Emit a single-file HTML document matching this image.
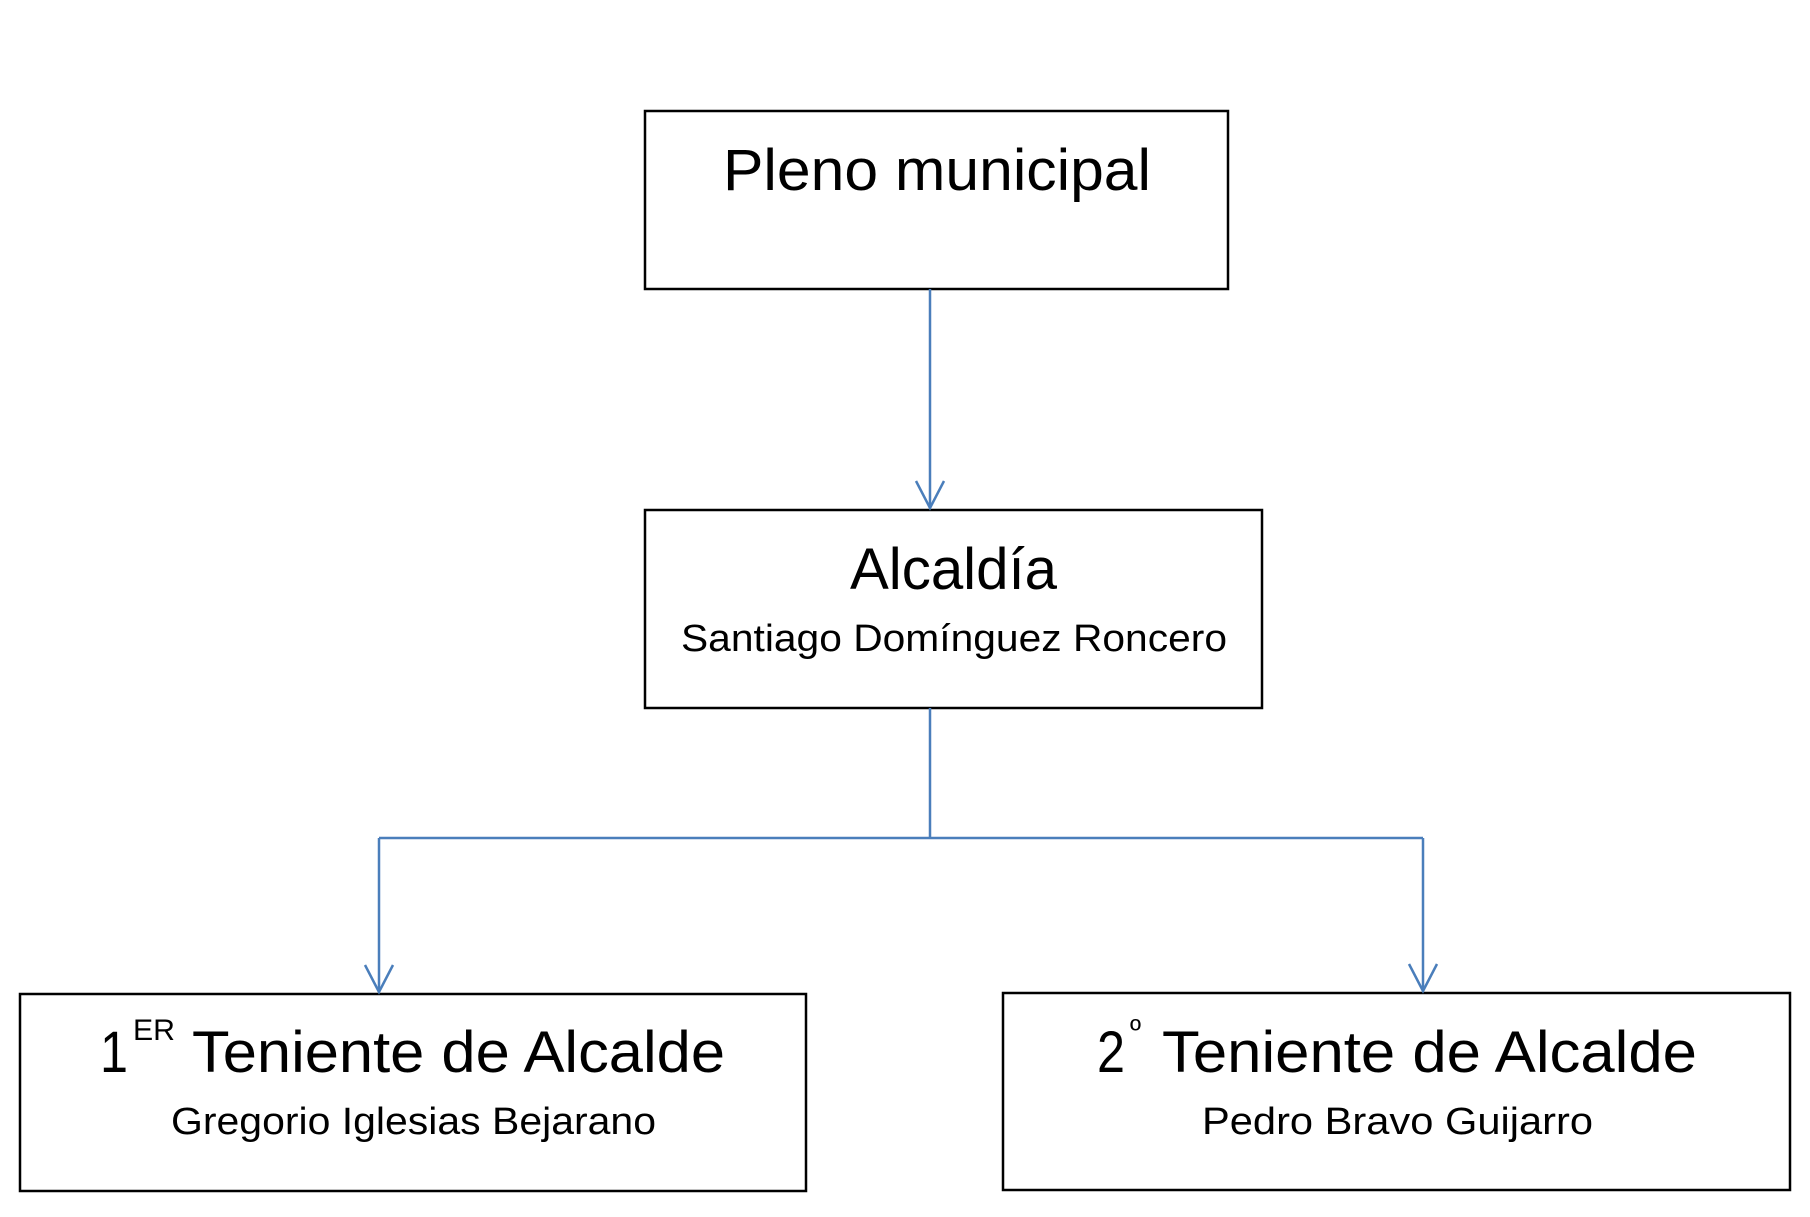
<!DOCTYPE html>
<html><head><meta charset="utf-8"><style>html,body{margin:0;padding:0;background:#fff}</style></head>
<body>
<svg width="1810" height="1212" viewBox="0 0 1810 1212" xmlns="http://www.w3.org/2000/svg" font-family="'Liberation Sans', sans-serif" fill="#000">
<g fill="none" stroke="#000" stroke-width="2.5">
<rect x="645" y="111" width="583" height="178"/>
<rect x="645" y="510" width="617" height="198"/>
<rect x="20" y="994" width="786" height="197"/>
<rect x="1003" y="993" width="787" height="197"/>
</g>
<g fill="none" stroke="#4a7ebb" stroke-width="2.5">
<line x1="930" y1="289" x2="930" y2="508"/>
<polyline points="916,481 930,508 944,481"/>
<line x1="930" y1="708" x2="930" y2="838"/>
<line x1="379" y1="838" x2="1423" y2="838"/>
<line x1="379" y1="838" x2="379" y2="992"/>
<polyline points="365,965 379,992 393,965"/>
<line x1="1423" y1="838" x2="1423" y2="991"/>
<polyline points="1409,964 1423,991 1437,964"/>
</g>
<text x="723" y="190" font-size="58" textLength="428" lengthAdjust="spacingAndGlyphs">Pleno municipal</text>
<text x="850" y="589" font-size="58" textLength="207" lengthAdjust="spacingAndGlyphs">Alcaldía</text>
<text x="681" y="651" font-size="38" textLength="546" lengthAdjust="spacingAndGlyphs">Santiago Domínguez Roncero</text>
<text x="100" y="1072" font-size="58" textLength="28" lengthAdjust="spacingAndGlyphs">1</text>
<text x="133" y="1040" font-size="30" textLength="42" lengthAdjust="spacingAndGlyphs">ER</text>
<text x="192" y="1072" font-size="58" textLength="533" lengthAdjust="spacingAndGlyphs">Teniente de Alcalde</text>
<text x="171" y="1134" font-size="38" textLength="485" lengthAdjust="spacingAndGlyphs">Gregorio Iglesias Bejarano</text>
<text x="1097" y="1072" font-size="58" textLength="28" lengthAdjust="spacingAndGlyphs">2</text>
<text x="1130" y="1040" font-size="30">º</text>
<text x="1162" y="1072" font-size="58" textLength="535" lengthAdjust="spacingAndGlyphs">Teniente de Alcalde</text>
<text x="1202" y="1134" font-size="38" textLength="391" lengthAdjust="spacingAndGlyphs">Pedro Bravo Guijarro</text>
</svg>
</body></html>
